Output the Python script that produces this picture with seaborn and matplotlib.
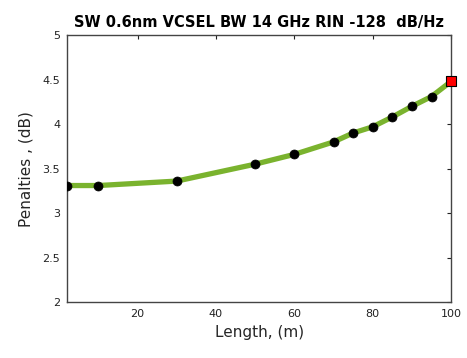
import matplotlib
matplotlib.use("Agg")
import matplotlib.pyplot as plt
import seaborn as sns
import pandas as pd

length_m = [2, 10, 30, 50, 60, 70, 75, 80, 85, 90, 95, 100]
penalty_db = [3.31, 3.31, 3.36, 3.55, 3.66, 3.80, 3.90, 3.97, 4.08, 4.20, 4.31, 4.48]
x_ticks = [20, 40, 60, 80, 100]
y_ticks = [2, 2.5, 3, 3.5, 4, 4.5, 5]
y_tick_labels = ["2", "2.5", "3", "3.5", "4", "4.5", "5"]
title = "SW 0.6nm VCSEL BW 14 GHz RIN -128  dB/Hz"
xlabel = "Length, (m)"
ylabel = "Penalties , (dB)"

sns.set_style("white")
plt.rcParams['font.family'] = ['DejaVu Sans']

df = pd.DataFrame({"length": length_m, "penalty": penalty_db})

fig = plt.figure(figsize=(4.67, 3.58), dpi=100)
ax = fig.add_axes([0.1435, 0.156, 0.8225, 0.746])

sns.lineplot(data=df, x="length", y="penalty", ax=ax, color="#7ab32e",
             linewidth=3.8, zorder=2)
sns.scatterplot(data=df.iloc[:-1], x="length", y="penalty", ax=ax, color="black",
                marker="o", s=42, edgecolor="black", zorder=3)
sns.scatterplot(data=df.iloc[-1:], x="length", y="penalty", ax=ax, color="#ff0000",
                marker="s", s=60, edgecolor="black", linewidth=0.8, zorder=4,
                clip_on=False)

ax.set_xlim(2, 100)
ax.set_ylim(2, 5)
ax.set_xticks(x_ticks)
ax.set_xticklabels([str(t) for t in x_ticks])
ax.set_yticks(y_ticks)
ax.set_yticklabels(y_tick_labels)
ax.tick_params(direction="in", length=3, width=0.8, top=True, right=True,
               labelsize=8, colors="#222222", pad=5)
for s in ax.spines.values():
    s.set_color("#444444")
    s.set_linewidth(1.0)
ax.set_title(title, fontsize=10.5, fontweight="bold", color="black", pad=6)
ax.set_xlabel(xlabel, fontsize=11, labelpad=4)
ax.set_ylabel(ylabel, fontsize=11, labelpad=6)

fig.savefig("out.png", dpi=100)
